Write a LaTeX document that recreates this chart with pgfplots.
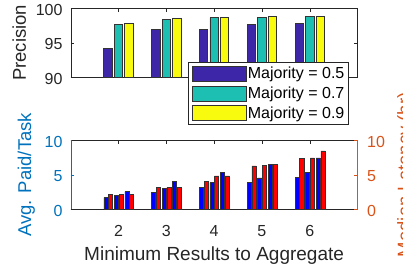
\documentclass[border=0pt]{standalone}
\usepackage{pgfplots}
\pgfplotsset{compat=1.18}
\usepackage{fontspec}
\setmainfont{Liberation Sans}
\definecolor{c1}{RGB}{62,38,168}
\definecolor{c2}{RGB}{28,191,178}
\definecolor{c3}{RGB}{249,251,14}
\definecolor{mgray}{RGB}{38,38,38}
\definecolor{mblue}{RGB}{0,114,189}
\definecolor{morange}{RGB}{217,83,25}
\newcommand{\lblfont}{\fontsize{18.5}{18.5}\selectfont}
\pgfplotsset{
  common/.style={
    scale only axis, width=286.8pt, height=69pt,
    xmin=1, xmax=7, xtick={2,3,4,5,6},
    tick align=inside, major tick length=3.5pt,
    /pgf/number format/assume math mode=true,
    tick label style={font=\fontsize{16}{16}\selectfont, inner sep=0pt},
    xticklabel style={anchor=base, yshift=-26.7pt},
    every axis x label/.style={at={(rel axis cs:0.5,-0.735)}, anchor=base, font=\fontsize{19}{19}\selectfont},
  },
  topbar/.style={ybar, bar width=0.175, bar shift=#1, draw=black!80, line width=0.7pt,
    legend image code/.code={\draw[##1] (0pt,-7.5pt) rectangle (54pt,7.5pt);}},
  botbar/.style={ybar, bar width=0.085, bar shift=#1, draw=black!80, line width=0.6pt},
}
\begin{document}
\begin{tikzpicture}[x=1pt,y=1pt]
% ---------------- top: precision
\begin{axis}[common,
  at={(70.7pt,190.7pt)}, anchor=south west,
  ymin=90, ymax=100, ytick={90,95,100}, xticklabels={},
  axis line style={mgray}, xtick style={mgray}, ytick style={mgray},
  yticklabel style={anchor=east, xshift=-8pt, yshift=-1.5pt, text=mgray},
  ylabel={Precision},
  every axis y label/.style={at={(rel axis cs:-0.1559,0.5)}, anchor=base, rotate=90, text=mgray, font=\lblfont},
  legend cell align=left,
  legend style={at={(rel axis cs:0.41,0.2217)}, anchor=north west, draw=mgray,
    line width=0.8pt, fill=white, font=\fontsize{16}{16}\selectfont,
    inner xsep=3pt, inner ysep=3.5pt, row sep=3.5pt, nodes={inner sep=1.5pt},
    /tikz/every even column/.append style={column sep=3pt}},
]
\addplot[topbar=-0.22, fill=c1] coordinates {(2,94.2) (3,96.9) (4,96.9) (5,97.7) (6,97.75)};
\addlegendentry{Majority = 0.5}
\addplot[topbar=0, fill=c2] coordinates {(2,97.7) (3,98.4) (4,98.65) (5,98.7) (6,98.8)};
\addlegendentry{Majority = 0.7}
\addplot[topbar=0.22, fill=c3] coordinates {(2,97.8) (3,98.5) (4,98.7) (5,98.8) (6,98.85)};
\addlegendentry{Majority = 0.9}
\end{axis}
% ---------------- bottom left: avg paid
\begin{axis}[common,
  at={(70.7pt,58.7pt)}, anchor=south west,
  ymin=0, ymax=10, ytick={0,5,10},
  axis x line*=box, axis y line*=left,
  x axis line style={mgray}, y axis line style={mblue},
  xtick style={mgray}, ytick style={mblue},
  xticklabel style={text=mgray},
  yticklabel style={anchor=east, xshift=-8pt, yshift=-1.5pt, text=mblue},
  xlabel={Minimum Results to Aggregate}, xlabel style={text=mgray},
  ylabel={Avg. Paid/Task},
  every axis y label/.style={at={(rel axis cs:-0.138,0.5)}, anchor=base, rotate=90, text=mblue, font=\lblfont},
]
\addplot[botbar=-0.265, fill=blue] coordinates {(2,1.68) (3,2.46) (4,3.2) (5,3.92) (6,4.68)};
\addplot[botbar=-0.045, fill=blue] coordinates {(2,2.07) (3,3.04) (4,3.85) (5,4.55) (6,5.35)};
\addplot[botbar=0.175, fill=blue] coordinates {(2,2.55) (3,4.1) (4,5.4) (5,6.48) (6,7.45)};
\end{axis}
% ---------------- bottom right: latency
\begin{axis}[common,
  at={(70.7pt,58.7pt)}, anchor=south west,
  ymin=0, ymax=10, ytick={0,5,10},
  axis x line=none, axis y line*=right,
  y axis line style={morange}, ytick style={morange},
  yticklabel style={anchor=west, xshift=9.5pt, yshift=-1.5pt, text=morange},
  ylabel={Median Latency (hr)},
  every axis y label/.style={at={(rel axis cs:1.185,0.5)}, anchor=base, rotate=90, text=morange, font=\lblfont},
]
\addplot[botbar=-0.165, fill=red] coordinates {(2,2.2) (3,3.13) (4,4.1) (5,6.3) (6,7.35)};
\addplot[botbar=0.055, fill=red] coordinates {(2,2.2) (3,3.23) (4,4.85) (5,6.4) (6,7.45)};
\addplot[botbar=0.275, fill=red] coordinates {(2,2.2) (3,3.23) (4,4.85) (5,6.5) (6,8.45)};
\end{axis}
\pgfresetboundingbox
\useasboundingbox (0,0) rectangle (403,268);
\end{tikzpicture}
\end{document}
